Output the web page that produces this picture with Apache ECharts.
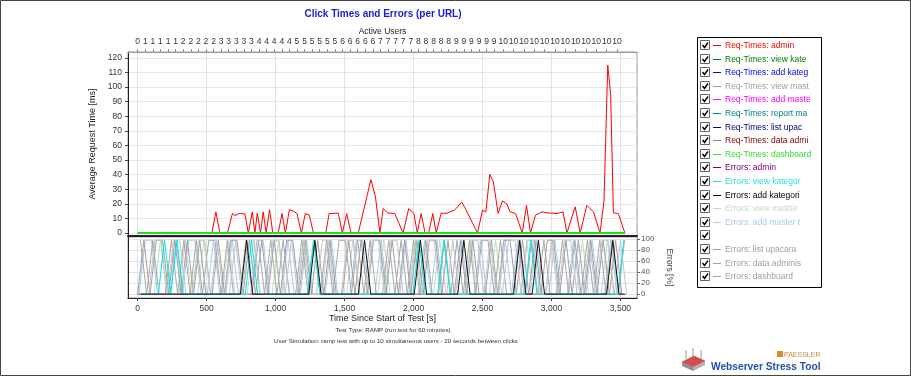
<!DOCTYPE html>
<html>
<head>
<meta charset="utf-8">
<script src="https://cdn.jsdelivr.net/npm/echarts@6.0.0/dist/echarts.min.js"></script>
<style>html,body{margin:0;padding:0;background:#fff}#chart{width:911px;height:376px}</style>
</head>
<body>
<div id="chart"></div>
<script>
// request times (seconds since start, ms)
var reqSec = [0,538,567,596,651,687,706,735,778,802,831,850,867,891,910,932,956,980,1018,1047,1071,1100,1131,1155,1187,1215,1244,1275,1364,1388,1455,1484,1515,1547,1599,1691,1724,1756,1780,1811,1864,1924,1965,2003,2027,2055,2084,2109,2140,2164,2200,2243,2296,2320,2349,2380,2428,2464,2500,2524,2553,2579,2613,2644,2675,2700,2740,2788,2819,2848,2884,2932,2968,3040,3084,3112,3172,3208,3256,3305,3352,3381,3408,3429,3449,3485,3532];
var reqAdmin = [0,0,14.5,0,0,13.4,12,13.4,13,0,14.5,0,13.6,0,14.5,0,16,0,0,13.4,0,16,15,13.4,0,13.4,12.3,0,0,13.4,13.6,0,13.4,0,0,36.6,24.7,0,16.8,13.8,13.4,0,16.8,13.4,0,13.4,0,0,13.4,0,13.6,13.6,15.7,18,21.3,16,6.8,0,15.7,14.5,40.2,35,13.4,22,20.2,14.5,13.4,0,19,0,12.3,14.5,13.8,13.4,14.5,0,18,0,19,14.5,0,22.5,115,95,13.8,13.4,0];
var dashSec = [0, 3532];
var reqDashboard = [0, 0];

// errors [%], one sample every 45 s
var errStep = 45;
var errList = [0,98,0,98,98,0,98,0,98,0, 98,0,0,98,0,98,98,0,98,0, 98,0,98,0,98,98,0,98,0,98, 0,98,0,0,98,0,98,0,98,98,
  0,98,0,98,0,98,0,98,98,0, 98,0,98,0,98,0,0,98,0,98, 98,0,98,0,98,0,98,98,0,98, 0,98,0,98,0,98,0,98,0];
var errData = [98,0,98,0,0,98,0,98,0,98, 0,98,98,0,98,0,0,98,0,98, 0,98,0,98,0,0,98,0,98,0, 98,0,98,98,0,98,0,98,0,0,
  98,0,98,0,98,0,98,0,0,98, 0,98,0,98,0,98,98,0,98,0, 0,98,0,98,0,98,0,0,98,0, 98,0,98,0,98,0,98,0,98];
var errDash = [0,0,98,98,0,98,98,0,0,98, 98,0,98,0,0,98,0,98,98,0, 0,98,98,0,98,0,98,0,0,98, 98,0,0,98,98,0,0,98,98,0,
  98,98,0,0,98,0,98,98,0,0, 98,0,0,98,98,0,98,0,0,98, 98,0,98,98,0,0,98,0,98,98, 0,0,98,0,98,98,0,98,0];
var errAddMaster = [0,98,98,0,0,0,98,0,98,98, 0,0,98,0,0,98,0,0,0,98, 98,0,0,0,98,0,0,98,0,0, 0,98,0,0,0,98,98,0,0,98,
  0,0,0,98,0,0,98,0,98,0, 0,0,98,0,0,98,0,0,0,98, 0,98,0,0,98,0,0,98,0,0, 98,0,0,98,0,0,98,0,0];
var errViewMaster = [0,0,0,98,0,0,0,98,0,0, 98,0,0,0,98,0,0,0,98,0, 0,0,98,0,0,0,98,0,0,0, 98,0,0,0,98,0,0,0,0,98,
  0,0,0,0,98,0,0,0,98,0, 0,0,0,98,0,0,0,98,0,0, 0,0,98,0,0,0,98,0,0,0, 0,98,0,0,0,98,0,0,0];
var errViewKat = [0,0,0,0,98,0,98,0,0,0, 0,0,0,0,0,0,0,0,98,0, 0,0,0,0,0,0,0,0,98,0, 0,0,0,0,0,0,0,0,0,0,
  0,0,0,0,0,98,0,0,0,98, 0,0,0,0,0,0,0,0,0,0, 0,0,0,98,0,0,0,0,0,0, 0,0,0,0,0,0,0,0,98];
var errAddKat = [0,0,0,0,0,0,0,0,0,0, 0,0,0,0,0,0,0,98,0,0, 0,0,0,0,0,0,0,0,98,0, 0,0,0,0,0,0,98,0,0,0,
  0,0,0,0,0,98,0,0,0,0, 0,0,98,0,0,0,0,0,0,0, 0,98,0,0,98,0,0,0,0,0, 0,0,0,0,0,0,98,0,0];
var errAdmin = [0,0,0,0,0,0,0,0,0,0, 0,0,0,0,0,0,0,0,0,0, 0,0,0,0,0,0,0,0,0,0, 0,0,0,0,0,0,0,0,0,0,
  0,0,0,0,0,0,0,0,0,0, 0,0,0,0,0,0,0,0,0,0, 0,0,0,0,0,0,0,0,0,0, 0,0,0,0,0,0,0,0,0];

// top axis: active users
var activeUsers = [0,1,1,1,1,1,2,2,2,2,2,3,3,3,3,3,4,4,4,4,4,5,5,5,5,5,5,6,6,6,6,6,7,7,7,7,7,8,8,8,8,8,9,9,9,9,9,9,
  10,10,10,10,10,10,10,10,10,10,10,10];
var timeTicks = [0,500,1000,1500,2000,2500,3000,3500];
var msTicks = [0,10,20,30,40,50,60,70,80,90,100,110,120];
var pctTicks = [0,20,40,60,80,100];

var legendItems = [
  ['Req-Times: admin', '#ff0000', '#ff0000'],
  ['Req-Times: view kate', '#008000', '#008000'],
  ['Req-Times: add kateg', '#0000ff', '#0000ff'],
  ['Req-Times: view mast', '#a0a0a0', '#a0a0a0'],
  ['Req-Times: add maste', '#ff00ff', '#ff00ff'],
  ['Req-Times: report ma', '#008080', '#008080'],
  ['Req-Times: list upac', '#000080', '#000080'],
  ['Req-Times: data admi', '#800000', '#a08040'],
  ['Req-Times: dashboard', '#33dd33', '#33dd33'],
  ['Errors: admin', '#800080', '#800080'],
  ['Errors: view kategor', '#22dddd', '#22dddd'],
  ['Errors: add kategori', '#000000', '#000000'],
  ['Errors: view master', '#c0dcc0', '#c0dcc0'],
  ['Errors: add master t', '#a6caf0', '#a6caf0'],
  ['', '#ffffff', '#ffffff'],
  ['Errors: list upacara', '#a0a0a4', '#a0a0a4'],
  ['Errors: data adminis', '#a0a0a4', '#a0a0a4'],
  ['Errors: dashboard', '#a0a0a4', '#a0a0a4']
];

var FONT = 'Liberation Sans';
var userTickTimes = [];
var userAt = {};
activeUsers.forEach(function (u, i) {
  var t = i < 48 ? i * 55 : 2650 + (i - 48) * 75;
  userTickTimes.push(t);
  userAt[t] = u;
});

function pairs(xs, ys) {
  return ys.map(function (v, i) { return [xs[i], v]; });
}
function errSeries(name, vals, color, offset) {
  return {
    name: name, type: 'line', xAxisIndex: 2, yAxisIndex: 2,
    data: vals.map(function (v, i) { return [i * errStep + offset, v]; }),
    symbol: 'none', lineStyle: { color: color, width: 1 }, itemStyle: { color: color },
    animation: false, silent: true
  };
}

var graphics = [
  { type: 'rect', shape: { x: 0.5, y: 0.5, width: 910, height: 375 }, style: { fill: 'none', stroke: '#444', lineWidth: 1 } },
  { type: 'text', x: 383, y: 14, style: { text: 'Click Times and Errors (per URL)', font: 'bold 10px ' + FONT, fill: '#1a1ad8', textAlign: 'center', textVerticalAlign: 'middle' } },
  { type: 'text', x: 393, y: 330, style: { text: 'Test Type: RAMP (run test for 60 minutes)', font: '6.2px ' + FONT, fill: '#333', textAlign: 'center', textVerticalAlign: 'middle' } },
  { type: 'text', x: 396, y: 341, style: { text: 'User Simulation: ramp test with up to 10 simultaneous users - 20 seconds between clicks', font: '6.2px ' + FONT, fill: '#333', textAlign: 'center', textVerticalAlign: 'middle' } },
  { type: 'rect', shape: { x: 697.5, y: 37.5, width: 124, height: 250 }, style: { fill: '#fff', stroke: '#000', lineWidth: 1 } },
  // logo
  { type: 'rect', shape: { x: 777, y: 351, width: 6, height: 6 }, style: { fill: '#e08a30' } },
  { type: 'text', x: 784, y: 355, style: { text: 'PAESSLER', font: '7px ' + FONT, fill: '#c8883a', textVerticalAlign: 'middle' } },
  { type: 'text', x: 711, y: 367, style: { text: 'Webserver Stress Tool', font: 'bold 10.2px ' + FONT, fill: '#2250b0', textVerticalAlign: 'middle' } },
  { type: 'polygon', shape: { points: [[682, 362], [694, 356], [705, 361], [693, 367]] }, style: { fill: '#d94a4a', stroke: '#a03030', lineWidth: 0.5 } },
  { type: 'polygon', shape: { points: [[682, 362], [693, 367], [693, 371], [682, 366]] }, style: { fill: '#909090' } },
  { type: 'polygon', shape: { points: [[693, 367], [705, 361], [705, 365], [693, 371]] }, style: { fill: '#b0b0b0' } },
  { type: 'line', shape: { x1: 686, y1: 359, x2: 686, y2: 350 }, style: { stroke: '#999', lineWidth: 1 } },
  { type: 'line', shape: { x1: 693, y1: 357, x2: 693, y2: 348 }, style: { stroke: '#999', lineWidth: 1 } },
  { type: 'line', shape: { x1: 701, y1: 359, x2: 701, y2: 350 }, style: { stroke: '#999', lineWidth: 1 } }
];
legendItems.forEach(function (it, i) {
  var yc = Math.round(45 + i * 13.6) + 0.5;
  graphics.push({ type: 'rect', shape: { x: 700.5, y: yc - 5, width: 9, height: 9 }, style: { fill: '#fff', stroke: '#666', lineWidth: 1 } });
  graphics.push({ type: 'polyline', shape: { points: [[702.5, yc - 0.5], [704.5, yc + 2], [708, yc - 3]] }, style: { stroke: '#000', lineWidth: 1.4, fill: 'none' } });
  if (it[0]) {
    graphics.push({ type: 'line', shape: { x1: 713, y1: yc, x2: 721, y2: yc }, style: { stroke: it[2], lineWidth: 1 } });
    graphics.push({ type: 'text', x: 725, y: yc, style: { text: it[0], font: '8.5px ' + FONT, fill: it[1], textVerticalAlign: 'middle' } });
  }
});

var option = {
  animation: false,
  backgroundColor: '#fff',
  textStyle: { fontFamily: FONT },
  grid: [
    { left: 128, top: 52, width: 509, height: 184, show: true, borderColor: '#9a9a9a', borderWidth: 1 },
    { left: 128, top: 237, width: 509, height: 61, show: true, borderColor: '#9a9a9a', borderWidth: 1 }
  ],
  xAxis: [
    { type: 'value', gridIndex: 0, min: -70, max: 3620, position: 'bottom',
      axisLine: { show: true, onZero: false, lineStyle: { color: '#222', width: 2 } },
      axisTick: { show: false, customValues: timeTicks }, axisLabel: { show: false, customValues: timeTicks },
      splitLine: { show: true, lineStyle: { color: '#e2e2e2', width: 1 } } },
    { type: 'value', gridIndex: 0, min: -70, max: 3620, position: 'top',
      name: 'Active Users', nameLocation: 'middle', nameGap: 16,
      nameTextStyle: { fontFamily: FONT, fontSize: 8.5, color: '#222' },
      axisLine: { show: true, onZero: false, lineStyle: { color: '#9a9a9a' } },
      axisTick: { show: true, customValues: userTickTimes, length: 3, lineStyle: { color: '#888' } },
      axisLabel: { customValues: userTickTimes, margin: 6, fontFamily: FONT, fontSize: 8.5, color: '#333',
        formatter: function (v) { return String(userAt[v]); } },
      splitLine: { show: false } },
    { type: 'value', gridIndex: 1, min: -70, max: 3620, position: 'bottom',
      name: 'Time Since Start of Test [s]', nameLocation: 'middle', nameGap: 16,
      nameTextStyle: { fontFamily: FONT, fontSize: 9, color: '#222' },
      axisLine: { show: true, onZero: false, lineStyle: { color: '#222', width: 1 } },
      axisTick: { show: true, customValues: timeTicks, length: 3, lineStyle: { color: '#444' } },
      axisLabel: { customValues: timeTicks, margin: 6, fontFamily: FONT, fontSize: 8.5, color: '#333',
        formatter: function (v) { return v.toLocaleString('en-US'); } },
      splitLine: { show: true, lineStyle: { color: '#e2e2e2', width: 1 } } }
  ],
  yAxis: [
    { type: 'value', gridIndex: 0, min: -2, max: 124, position: 'left',
      name: 'Average Request Time [ms]', nameLocation: 'middle', nameGap: 28,
      nameTextStyle: { fontFamily: FONT, fontSize: 9, color: '#222' },
      axisLine: { show: true, onZero: false, lineStyle: { color: '#222' } },
      axisTick: { show: true, customValues: msTicks, length: 3, lineStyle: { color: '#444' } },
      axisLabel: { customValues: msTicks, margin: 6, fontFamily: FONT, fontSize: 8.5, color: '#333' },
      splitLine: { show: true, lineStyle: { color: '#e6e6e6', width: 1 } } },
    { type: 'value', gridIndex: 1, min: -7, max: 104, position: 'left',
      axisLine: { show: true, onZero: false, lineStyle: { color: '#222' } },
      axisTick: { show: false }, axisLabel: { show: false }, splitLine: { show: false } },
    { type: 'value', gridIndex: 1, min: -7, max: 104, position: 'right',
      name: 'Errors [%]', nameLocation: 'middle', nameGap: 24, nameRotate: -90,
      nameTextStyle: { fontFamily: FONT, fontSize: 8.5, color: '#444' },
      axisLine: { show: true, onZero: false, lineStyle: { color: '#9a9a9a' } },
      axisTick: { show: true, customValues: pctTicks, length: 3, lineStyle: { color: '#666' } },
      axisLabel: { customValues: pctTicks, margin: 4, fontFamily: FONT, fontSize: 8, color: '#555' },
      splitLine: { show: true, lineStyle: { color: '#e2e2e2', width: 1 } } }
  ],
  series: [
    errSeries('Errors: admin', errAdmin, '#800080', 0),
    errSeries('Errors: add master t', errAddMaster, '#a6caf0', 10),
    errSeries('Errors: view master', errViewMaster, '#c0dcc0', 30),
    errSeries('Errors: list upacara', errList, '#a0a0a4', 0),
    errSeries('Errors: data adminis', errData, '#a8a8ac', 20),
    errSeries('Errors: dashboard', errDash, '#c4c4c8', 35),
    errSeries('Errors: view kategor', errViewKat, '#00e5e5', 15),
    errSeries('Errors: add kategori', errAddKat, '#111111', 25),
    { name: 'Req-Times: admin', type: 'line', xAxisIndex: 0, yAxisIndex: 0, data: pairs(reqSec, reqAdmin),
      symbol: 'none', lineStyle: { color: '#ff0000', width: 1 }, itemStyle: { color: '#ff0000' }, z: 3 },
    { name: 'Req-Times: dashboard', type: 'line', xAxisIndex: 0, yAxisIndex: 0, data: pairs(dashSec, reqDashboard),
      symbol: 'none', lineStyle: { color: '#22dd22', width: 2 }, itemStyle: { color: '#22dd22' }, z: 4 }
  ],
  graphic: graphics
};

var myChart = echarts.init(document.getElementById('chart'), null, { renderer: 'canvas' });
myChart.setOption(option);
window.addEventListener('resize', function () {
  myChart.resize();
});
</script>
</body>
</html>
